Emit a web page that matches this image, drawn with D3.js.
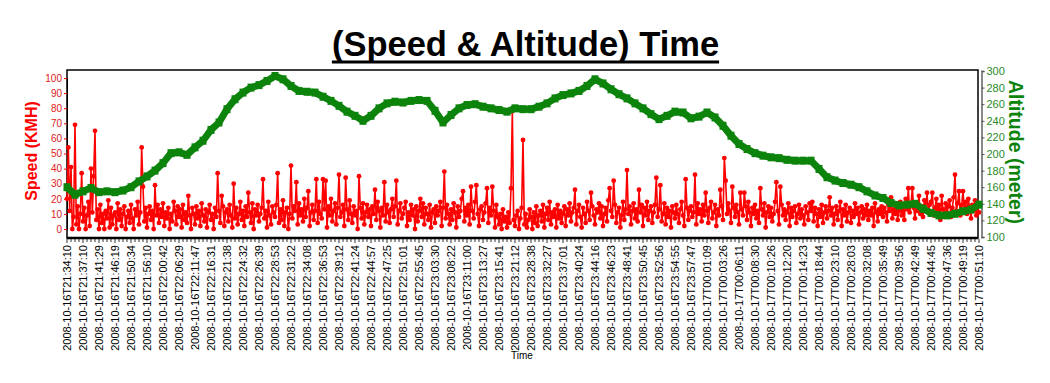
<!DOCTYPE html>
<html><head><meta charset="utf-8">
<script src="https://cdn.jsdelivr.net/npm/d3@7"></script>
<style>body{margin:0;background:#fff}svg{display:block;font-family:"Liberation Sans",Arial,sans-serif}</style>
</head><body><svg id="c" width="1050" height="383"></svg>
<script>
const timeLabels = ["2008-10-16T21:34:10","2008-10-16T21:37:10","2008-10-16T21:41:29","2008-10-16T21:46:19","2008-10-16T21:50:34","2008-10-16T21:56:10","2008-10-16T22:00:42","2008-10-16T22:06:29","2008-10-16T22:11:47","2008-10-16T22:16:31","2008-10-16T22:21:38","2008-10-16T22:24:32","2008-10-16T22:26:39","2008-10-16T22:28:53","2008-10-16T22:31:22","2008-10-16T22:34:08","2008-10-16T22:36:53","2008-10-16T22:39:12","2008-10-16T22:41:24","2008-10-16T22:44:57","2008-10-16T22:47:25","2008-10-16T22:51:01","2008-10-16T22:55:45","2008-10-16T23:03:30","2008-10-16T23:08:22","2008-10-16T23:11:00","2008-10-16T23:13:27","2008-10-16T23:15:41","2008-10-16T23:21:12","2008-10-16T23:28:38","2008-10-16T23:32:27","2008-10-16T23:37:01","2008-10-16T23:40:24","2008-10-16T23:44:16","2008-10-16T23:46:23","2008-10-16T23:48:41","2008-10-16T23:50:45","2008-10-16T23:52:56","2008-10-16T23:54:55","2008-10-16T23:57:47","2008-10-17T00:01:09","2008-10-17T00:03:26","2008-10-17T00:06:11","2008-10-17T00:08:30","2008-10-17T00:10:26","2008-10-17T00:12:20","2008-10-17T00:14:23","2008-10-17T00:18:44","2008-10-17T00:23:10","2008-10-17T00:28:03","2008-10-17T00:32:08","2008-10-17T00:35:49","2008-10-17T00:39:56","2008-10-17T00:42:49","2008-10-17T00:44:45","2008-10-17T00:47:36","2008-10-17T00:49:19","2008-10-17T00:51:10"];

const speedKmh = [
20,54,12,41,0,8,69,3,15,0,10,37,
5,14,0,9,18,2,40,11,35,65,6,13,
0,16,4,10,0,12,7,19,1,14,3,9,
11,0,17,6,13,2,10,15,0,8,12,4,
16,7,0,13,9,18,3,11,54,28,5,14,
1,10,15,6,12,0,29,9,16,4,13,8,
17,2,11,7,14,0,10,5,18,12,3,15,
8,13,1,16,6,11,4,22,9,0,14,10,
3,15,7,12,2,17,9,5,13,1,11,16,
6,10,0,14,8,37,12,4,22,15,2,11,
13,5,16,9,1,30,7,14,3,10,18,6,
12,2,15,8,24,11,4,17,0,13,9,16,
5,10,14,33,7,12,1,18,9,3,15,11,
8,16,37,4,13,6,19,2,11,14,0,10,
42,7,15,12,31,3,17,9,13,5,20,8,
14,25,2,11,16,6,12,33,4,18,10,7,
33,13,32,1,15,9,20,5,12,17,3,14,
36,8,11,16,2,34,13,6,19,10,4,15,
9,12,0,35,14,7,17,3,11,16,8,13,
2,15,10,26,6,18,12,1,14,9,31,5,
16,11,4,13,20,8,15,32,3,12,17,7,
10,14,18,2,11,6,16,9,13,0,15,5,
12,20,8,17,3,14,10,6,16,1,11,13,
4,15,9,12,18,2,14,38,7,16,10,3,
13,6,17,11,1,15,8,12,20,25,5,14,
9,16,3,28,12,7,18,29,10,2,13,15,
6,11,17,27,4,14,9,28,12,1,16,8,
3,10,0,13,5,8,1,11,4,27,78,6,
2,9,12,0,7,14,59,3,10,1,6,13,
8,0,11,4,15,2,9,12,5,16,1,10,
14,6,18,3,11,8,13,1,16,7,12,4,
10,15,2,13,9,17,5,11,14,26,3,12,
16,8,1,14,10,4,18,12,6,24,15,9,
3,13,11,17,7,15,2,10,14,5,19,27,
12,8,32,16,4,11,14,1,9,18,6,13,
39,10,15,3,12,17,7,13,5,26,11,16,
2,14,9,18,6,12,15,4,11,16,34,8,
13,29,5,10,17,3,14,8,12,1,15,11,
7,16,10,4,13,18,9,2,33,14,6,12,
15,8,11,36,3,17,10,13,5,16,9,24,
12,4,14,18,7,11,16,2,13,9,26,15,
6,47,32,10,17,12,4,28,14,8,16,11,
3,24,13,9,24,15,6,18,11,2,14,10,
16,7,12,4,27,13,9,17,1,11,15,8,
14,5,10,18,31,12,3,28,16,9,13,6,
11,17,2,14,8,12,15,4,10,16,7,13,
9,3,15,11,6,17,12,18,5,14,10,2,
13,8,16,4,11,15,7,12,21,9,14,3,
10,15,6,12,18,2,13,9,16,5,11,14,
4,12,8,17,10,14,3,11,15,7,13,9,
16,6,12,9,14,2,17,11,5,13,10,15,
8,14,11,5,16,12,21,7,13,10,17,6,
12,18,9,15,6,20,13,27,11,16,27,14,
7,17,12,22,10,15,8,19,13,24,11,16,
18,24,9,14,20,12,16,6,22,13,10,17,
11,15,19,8,14,21,36,12,17,25,9,16,
25,13,18,10,20,14,7,16,12,19,9,15,
11];

const altitudeM = [
160,151,155,159,154,155,154,156,160,167,173,180,189,201,202,199,208,216,229,238,
254,266,274,280,283,288,294,290,282,276,275,274,269,264,258,251,246,240,246,255,
261,263,262,264,265,264,252,238,247,255,259,260,257,255,253,251,255,254,254,257,
261,267,271,273,276,282,290,285,278,272,267,261,255,248,242,246,251,250,243,245,
250,244,234,222,212,206,201,198,196,195,193,192,192,192,182,172,168,165,163,160,
155,150,147,141,138,139,140,134,129,126,126,128,131,133,139];

const speedTicks = [0,10,20,30,40,50,60,70,80,90,100];
const altTicks = [100,120,140,160,180,200,220,240,260,280,300];

const svg = d3.select("#c");
const X0 = 67, X1 = 979;
const RED = "#ff0000", GREEN = "#0c840c";

const xIdx = d3.scaleLinear().domain([0, speedKmh.length - 1]).range([X0, X1]);
const xAlt = d3.scaleLinear().domain([0, altitudeM.length - 1]).range([X0, X1]);
const xLab = d3.scalePoint().domain(timeLabels).range([X0, X1]);
const ySpd = d3.scaleLinear().domain([0, 100]).range([229, 78]);
const yAlt = d3.scaleLinear().domain([100, 300]).range([237, 71]);

// title
const title = svg.append("text").attr("x", 525.5).attr("y", 56).attr("text-anchor", "middle")
  .attr("font-size", 34.5).attr("font-weight", "bold").attr("fill", "#000").text("(Speed & Altitude) Time");
const tw = title.node().getComputedTextLength();
svg.append("rect").attr("x", 525.5 - tw/2).attr("y", 60.5).attr("width", tw).attr("height", 3).attr("fill", "#000");

// frame
svg.append("rect").attr("x", X0).attr("y", 70).attr("width", 978 - X0).attr("height", 168)
  .attr("fill", "none").attr("stroke", "#000").attr("stroke-width", 1.5);
svg.append("line").attr("x1", X0).attr("x2", 978).attr("y1", 238).attr("y2", 238).attr("stroke", "#000").attr("stroke-width", 2.5);

// left axis
const gl = svg.append("g").attr("transform", `translate(${X0},0)`)
  .call(d3.axisLeft(ySpd).tickValues(speedTicks).tickSize(3).tickPadding(2));
gl.select(".domain").attr("stroke", "#000");
gl.selectAll(".tick line").attr("stroke", RED);
gl.selectAll(".tick text").attr("fill", "#e02020").attr("font-size", 10).attr("font-family", "Liberation Sans, Arial, sans-serif");

// right axis
const gr = svg.append("g").attr("transform", "translate(981.5,0)")
  .call(d3.axisRight(yAlt).tickValues(altTicks).tickSize(3).tickPadding(2));
gr.select(".domain").attr("stroke", "#888").attr("stroke-width", 2);
gr.selectAll(".tick line").attr("stroke", "#555");
gr.selectAll(".tick text").attr("fill", "#2a8a2a").attr("font-size", 11).attr("font-family", "Liberation Sans, Arial, sans-serif");

// bottom axis: minor ticks
const minor = d3.range(0, (timeLabels.length - 1) * 4 + 1).map(i => i / 4);
const xMinor = d3.scaleLinear().domain([0, timeLabels.length - 1]).range([X0, X1]);
svg.append("g").selectAll("line").data(minor).join("line")
  .attr("x1", d => xMinor(d)).attr("x2", d => xMinor(d)).attr("y1", 239).attr("y2", d => d % 1 === 0 ? 243 : 242)
  .attr("stroke", "#000").attr("stroke-width", 0.8);
svg.append("g").selectAll("text").data(timeLabels).join("text")
  .attr("transform", d => `translate(${xLab(d)},245) rotate(-90)`)
  .attr("text-anchor", "end").attr("dy", "0.35em").attr("font-size", 11).attr("fill", "#000").text(d => d);
svg.append("text").attr("x", 522).attr("y", 359).attr("text-anchor", "middle").attr("font-size", 10).text("Time");

// axis titles
svg.append("text").attr("transform", "translate(37,151) rotate(-90)").attr("text-anchor", "middle")
  .attr("font-size", 16).attr("font-weight", "bold").attr("fill", RED).text("Speed (KMH)");
svg.append("text").attr("transform", "translate(1009,152) rotate(90)").attr("text-anchor", "middle")
  .attr("font-size", 19.5).attr("font-weight", "bold").attr("fill", GREEN).text("Altitude (meter)");

// speed series
const spd = speedKmh.map((v, i) => [i, v]);
svg.append("path").datum(spd).attr("fill", "none").attr("stroke", RED).attr("stroke-width", 1.6)
  .attr("d", d3.line().x(d => xIdx(d[0])).y(d => ySpd(d[1])));
svg.append("g").selectAll("circle").data(spd).join("circle")
  .attr("cx", d => xIdx(d[0])).attr("cy", d => ySpd(d[1])).attr("r", 2.4).attr("fill", RED);

// altitude series
const alt = altitudeM.map((v, i) => [i, v]);
svg.append("path").datum(alt).attr("fill", "none").attr("stroke", GREEN).attr("stroke-width", 7)
  .attr("stroke-linejoin", "round").attr("d", d3.line().x(d => xAlt(d[0])).y(d => yAlt(d[1])));
svg.append("g").selectAll("rect").data(alt).join("rect")
  .attr("x", d => xAlt(d[0]) - 3.5).attr("y", d => yAlt(d[1]) - 4).attr("width", 7).attr("height", 8).attr("fill", GREEN);
</script></body></html>
